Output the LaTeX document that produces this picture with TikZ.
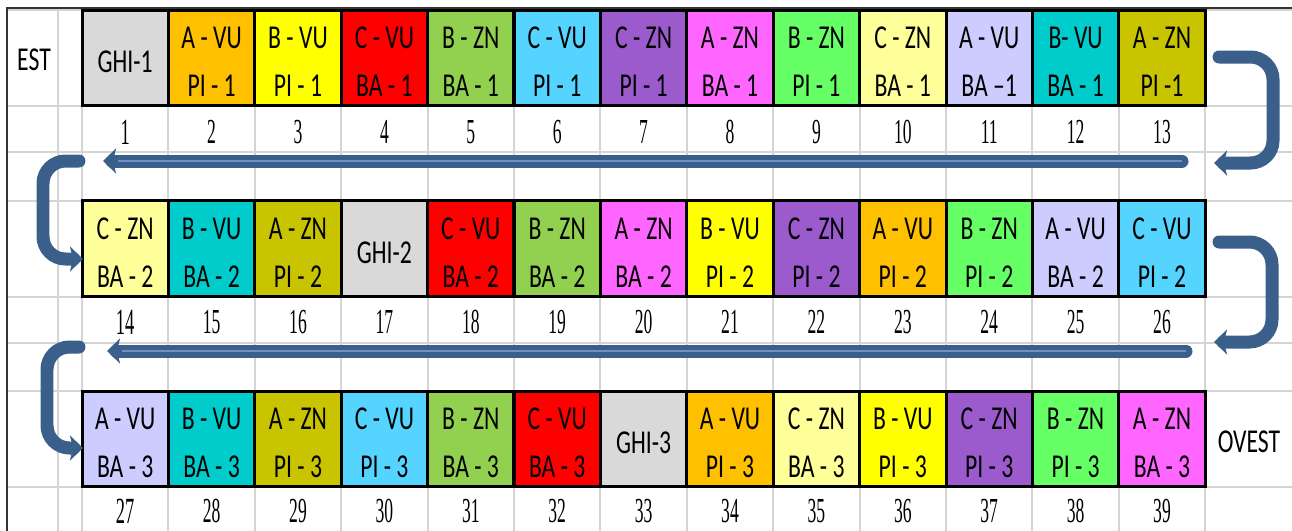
\documentclass[tikz,border=0pt]{standalone}
\usepackage{fontspec}
\usetikzlibrary{arrows.meta}
\newfontfamily\cellfont[FakeStretch=0.71]{Carlito}
\newfontfamily\numfont[FakeStretch=0.5]{Liberation Serif}
\definecolor{cgrey}{HTML}{D9D9D9}
\definecolor{corange}{HTML}{FFC000}
\definecolor{cyellow}{HTML}{FFFF00}
\definecolor{cred}{HTML}{FF0000}
\definecolor{cgreen}{HTML}{92D050}
\definecolor{ccyan}{HTML}{55D4FF}
\definecolor{cpurple}{HTML}{9B5BCD}
\definecolor{cpink}{HTML}{FF66FF}
\definecolor{clime}{HTML}{66FF66}
\definecolor{cpale}{HTML}{FFFF99}
\definecolor{clav}{HTML}{CCCCFF}
\definecolor{cteal}{HTML}{00CCCC}
\definecolor{colive}{HTML}{C8C400}
\definecolor{gridgrey}{HTML}{D4D4D4}
\definecolor{flowblue}{HTML}{3A5F8B}
\definecolor{shineblue}{HTML}{6E90C2}

\begin{document}
\begin{tikzpicture}[x=0.02cm, y=-0.02cm,
		cell/.style={draw=black, line width=0.06cm, minimum width=1.728cm, minimum height=1.92cm, inner sep=0pt},
		lbl/.style={align=center, inner sep=0pt, font=\cellfont\fontsize{19}{27.4}\selectfont},
		num/.style={inner sep=0pt, font=\numfont\fontsize{20}{22}\selectfont},
		grid/.style={draw=gridgrey, line width=0.04cm},
		flow/.style={draw=flowblue, line width=0.26cm, line cap=round, rounded corners=0.45cm, -{Stealth[length=0.26cm, width=0.5cm, inset=0.06cm]}},
		shine/.style={draw=shineblue, line width=0.04cm}]

	\useasboundingbox (0,0) rectangle (1292,531);

	\draw[grid] (58,10) -- (58,531);
	\foreach \j in {0, ..., 13}
		\draw[grid] (82+86.4*\j,10) -- (82+86.4*\j,531);
	\foreach \y in {10, 106, 152, 200.5, 296.5, 342.5, 391, 487}
		\draw[grid] (8,\y) -- (1292,\y);
	\draw[black!80, line width=0.04cm] (7,531) -- (7,8) -- (1292,8);

	\foreach \col/\txt [count=\j, evaluate=\j as \k using int(\j)] in {
			cgrey/{GHI-1}, corange/{A - VU\\PI - 1}, cyellow/{B - VU\\PI - 1}, cred/{C - VU\\BA - 1},
			cgreen/{B - ZN\\BA - 1}, ccyan/{C - VU\\PI - 1}, cpurple/{C - ZN\\PI - 1}, cpink/{A - ZN\\BA - 1},
			clime/{B - ZN\\PI - 1}, cpale/{C - ZN\\BA - 1}, clav/{A - VU\\BA –1}, cteal/{B- VU\\BA - 1},
			colive/{A - ZN\\PI -1}}{
			\node[cell, fill=\col] (c\k) at (38.8+86.4*\j, 58) {};
			\node[lbl, yshift=-0.08cm] (t\k) at (c\k.center) {\txt};
			\node[num] (n\k) at (38.8+86.4*\j, 132) {\ifnum\j=1 \fontsize{21}{23}\selectfont\fi\k};
		}

	\foreach \col/\txt [count=\j, evaluate=\j as \k using int(\j+13)] in {
			cpale/{C - ZN\\BA - 2}, cteal/{B - VU\\BA - 2}, colive/{A - ZN\\PI - 2}, cgrey/{GHI-2},
			cred/{C - VU\\BA - 2}, cgreen/{B - ZN\\BA - 2}, cpink/{A - ZN\\BA - 2}, cyellow/{B - VU\\PI - 2},
			cpurple/{C - ZN\\PI - 2}, corange/{A - VU\\PI - 2}, clime/{B - ZN\\PI - 2}, clav/{A - VU\\BA - 2},
			ccyan/{C - VU\\PI - 2}}{
			\node[cell, fill=\col] (c\k) at (38.8+86.4*\j, 248.5) {};
			\node[lbl, yshift=-0.08cm] (t\k) at (c\k.center) {\txt};
			\node[num] (n\k) at (38.8+86.4*\j, 322) {\ifnum\j=1 \fontsize{21}{23}\selectfont\fi\k};
		}

	\foreach \col/\txt [count=\j, evaluate=\j as \k using int(\j+26)] in {
			clav/{A - VU\\BA - 3}, cteal/{B - VU\\BA - 3}, colive/{A - ZN\\PI - 3}, ccyan/{C - VU\\PI - 3},
			cgreen/{B - ZN\\BA - 3}, cred/{C - VU\\BA - 3}, cgrey/{GHI-3}, corange/{A - VU\\PI - 3},
			cpale/{C - ZN\\BA - 3}, cyellow/{B - VU\\PI - 3}, cpurple/{C - ZN\\PI - 3}, clime/{B - ZN\\PI - 3},
			cpink/{A - ZN\\BA - 3}}{
			\node[cell, fill=\col] (c\k) at (38.8+86.4*\j, 439) {};
			\node[lbl, yshift=-0.08cm] (t\k) at (c\k.center) {\txt};
			\node[num] (n\k) at (38.8+86.4*\j, 511) {\ifnum\j=1 \fontsize{21}{23}\selectfont\fi\k};
		}

	\node[lbl] (est) at (34,60) {EST};
	\node[lbl] (ovest) at (1249,442) {OVEST};

	\coordinate (ra1) at (1219,57);
	\coordinate (ra2) at (1273,57);
	\coordinate (ra3) at (1273,163);
	\coordinate (ra4) at (1214,163);
	\coordinate (ha1) at (1182,161);
	\coordinate (ha2) at (103,161);
	\coordinate (la1) at (79,161);
	\coordinate (la2) at (43,161);
	\coordinate (la3) at (43,259);
	\coordinate (la4) at (83,259);

	\coordinate (rb1) at (1219,242);
	\coordinate (rb2) at (1272,242);
	\coordinate (rb3) at (1272,342);
	\coordinate (rb4) at (1214,342);
	\coordinate (hb1) at (1186,351);
	\coordinate (hb2) at (107,351);
	\coordinate (lb1) at (79,347);
	\coordinate (lb2) at (47,347);
	\coordinate (lb3) at (47,448);
	\coordinate (lb4) at (83,448);

	\draw[flow] (ra1) -- (ra2) -- (ra3) -- (ra4);
	\draw[flow] (ha1) -- (ha2);
	\draw[shine] (ha1) -- ([xshift=0.3cm]ha2);
	\draw[flow] (la1) -- (la2) -- (la3) -- (la4);

	\draw[flow] (rb1) -- (rb2) -- (rb3) -- (rb4);
	\draw[flow] (hb1) -- (hb2);
	\draw[shine] (hb1) -- ([xshift=0.3cm]hb2);
	\draw[flow] (lb1) -- (lb2) -- (lb3) -- (lb4);
\end{tikzpicture}
\end{document}
